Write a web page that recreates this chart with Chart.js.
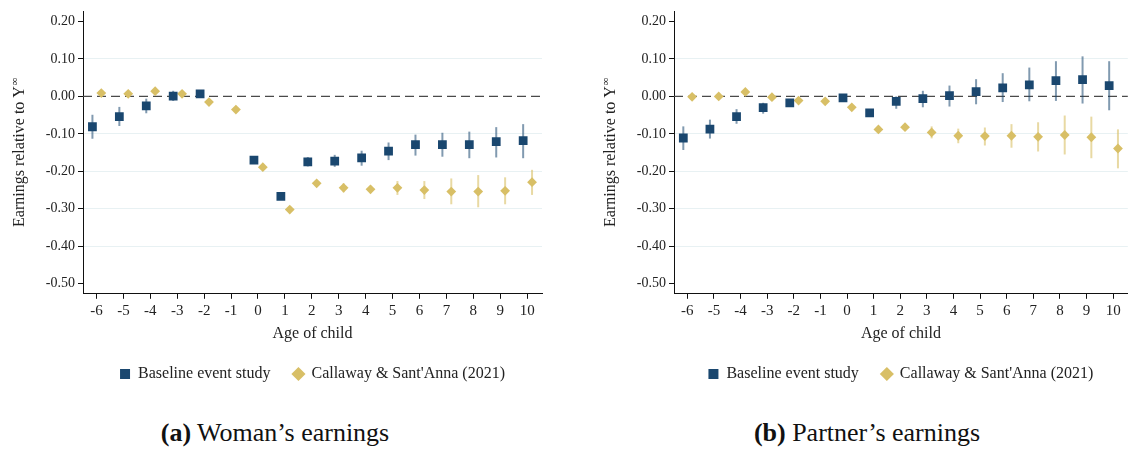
<!DOCTYPE html>
<html>
<head>
<meta charset="utf-8">
<script src="https://cdn.jsdelivr.net/npm/chart.js@4"></script>
<style>
  body { margin: 0; background: #fff; width: 1134px; height: 449px; overflow: hidden; position: relative; }
  .panel { position: absolute; top: 0; height: 395px; }
  .caption { position: absolute; top: 419px; font-family: "Liberation Serif", serif; font-size: 26px; line-height: 28px; color: #111; text-align: center; width: 400px; }
</style>
</head>
<body>
<div class="panel" id="p1" style="left:0px;width:560px"><canvas id="c1"></canvas></div>
<div class="panel" id="p2" style="left:591px;width:543px"><canvas id="c2"></canvas></div>
<div class="caption" style="left:75px"><b>(a)</b> Woman’s earnings</div>
<div class="caption" style="left:667px"><b>(b)</b> Partner’s earnings</div>
<script>
var ages = [-6, -5, -4, -3, -2, -1, 0, 1, 2, 3, 4, 5, 6, 7, 8, 9, 10];
var yTicks = [0.2, 0.1, 0, -0.1, -0.2, -0.3, -0.4, -0.5];

// woman's earnings
var womanBase   = [-0.081, -0.054, -0.025, 0.001, 0.007, null, -0.170, -0.267, -0.175, -0.173, -0.164, -0.146, -0.129, -0.129, -0.129, -0.121, -0.118];
var womanBaseLo = [-0.113, -0.079, -0.045, -0.012, 0.002, null, -0.175, -0.272, -0.187, -0.188, -0.185, -0.170, -0.158, -0.161, -0.165, -0.163, -0.165];
var womanBaseHi = [-0.049, -0.028, -0.006, 0.015, 0.012, null, -0.165, -0.262, -0.162, -0.156, -0.145, -0.123, -0.102, -0.097, -0.094, -0.082, -0.074];
var womanCS     = [0.009, 0.007, 0.014, 0.007, -0.015, -0.035, -0.189, -0.302, -0.232, -0.244, -0.248, -0.244, -0.250, -0.254, -0.254, -0.252, -0.229];
var womanCSLo   = [0.004, 0.002, 0.009, 0.002, -0.020, -0.040, -0.194, -0.307, -0.240, -0.256, -0.258, -0.263, -0.274, -0.288, -0.296, -0.288, -0.263];
var womanCSHi   = [0.014, 0.012, 0.019, 0.012, -0.010, -0.030, -0.184, -0.297, -0.224, -0.232, -0.238, -0.226, -0.226, -0.219, -0.210, -0.216, -0.196];

// partner's earnings
var partnerBase   = [-0.111, -0.0875, -0.054, -0.030, -0.017, null, -0.004, -0.044, -0.013, -0.006, 0.002, 0.0125, 0.023, 0.031, 0.042, 0.045, 0.029];
var partnerBaseLo = [-0.143, -0.1125, -0.073, -0.046, -0.022, null, -0.009, -0.049, -0.033, -0.029, -0.027, -0.021, -0.015, -0.013, -0.012, -0.019, -0.037];
var partnerBaseHi = [-0.080, -0.062, -0.034, -0.017, -0.012, null, 0.001, -0.039, 0.000, 0.015, 0.029, 0.046, 0.062, 0.077, 0.094, 0.107, 0.094];
var partnerCS     = [-0.001, 0.000, 0.012, -0.002, -0.011, -0.013, -0.029, -0.088, -0.082, -0.096, -0.105, -0.106, -0.105, -0.108, -0.103, -0.109, -0.139];
var partnerCSLo   = [-0.006, -0.005, 0.007, -0.007, -0.016, -0.018, -0.034, -0.093, -0.087, -0.112, -0.125, -0.131, -0.137, -0.147, -0.155, -0.165, -0.192];
var partnerCSHi   = [0.004, 0.005, 0.017, 0.003, -0.006, -0.008, -0.024, -0.083, -0.077, -0.080, -0.086, -0.083, -0.074, -0.069, -0.051, -0.054, -0.088];

var NAVY = '#1a476f';
var NAVY_BAR = 'rgba(26,71,111,0.55)';
var GOLD = '#d8bf66';
var GOLD_BAR = 'rgba(216,191,102,0.6)';
var FONT = '"Liberation Serif", serif';

toPoints = function(vals, shift) {
    var pts = [];
    for (var i = 0; i < ages.length; i++) {
        if (vals[i] === null) continue;
        pts.push({x: ages[i] + shift, y: vals[i], idx: i});
    }
    return pts;
}

// error bars + dashed zero line, drawn under the markers
var errorBars = {
    id: 'errorBars',
    beforeDatasetsDraw: function(chart) {
        var ctx = chart.ctx;
        var ys = chart.scales.y;
        var area = chart.chartArea;
        var y0 = ys.getPixelForValue(0);
        ctx.save();
        ctx.strokeStyle = '#4a4a4a';
        ctx.lineWidth = 1.3;
        ctx.setLineDash([9, 5]);
        ctx.beginPath();
        ctx.moveTo(area.left, y0);
        ctx.lineTo(area.right, y0);
        ctx.stroke();
        ctx.setLineDash([]);
        chart.data.datasets.forEach(function(ds, d) {
            var meta = chart.getDatasetMeta(d);
            ctx.strokeStyle = ds.barColor;
            ctx.lineWidth = 2;
            meta.data.forEach(function(el, j) {
                var i = ds.data[j].idx;
                ctx.beginPath();
                ctx.moveTo(el.x, ys.getPixelForValue(ds.lo[i]));
                ctx.lineTo(el.x, ys.getPixelForValue(ds.hi[i]));
                ctx.stroke();
            });
        });
        ctx.restore();
    }
};

// y-axis title with superscript infinity
var yTitle = {
    id: 'yTitle',
    afterDraw: function(chart) {
        var ctx = chart.ctx;
        var area = chart.chartArea;
        var main = 'Earnings relative to Y';
        ctx.save();
        ctx.fillStyle = '#222';
        ctx.font = '16px ' + FONT;
        var w1 = ctx.measureText(main).width;
        ctx.font = '11px ' + FONT;
        var w2 = ctx.measureText('∞').width;
        ctx.translate(20, (area.top + area.bottom) / 2);
        ctx.rotate(-Math.PI / 2);
        ctx.textBaseline = 'middle';
        ctx.font = '16px ' + FONT;
        ctx.fillText(main, -(w1 + w2) / 2, 0);
        ctx.font = '11px ' + FONT;
        ctx.fillText('∞', -(w1 + w2) / 2 + w1 + 0.5, -5);
        ctx.restore();
    }
};

makeChart = function(id, base, baseLo, baseHi, cs, csLo, csHi, padRight) {
    var ctx = document.getElementById(id).getContext('2d');
    return new Chart(ctx, {
        type: 'scatter',
        data: {
            datasets: [{
                label: 'Baseline event study',
                data: toPoints(base, -0.15),
                lo: baseLo, hi: baseHi, barColor: NAVY_BAR,
                pointStyle: 'rect',
                pointRadius: 6.2,
                pointHoverRadius: 6.2,
                backgroundColor: NAVY,
                borderColor: NAVY,
                borderWidth: 0
            }, {
                label: "Callaway & Sant'Anna (2021)",
                data: toPoints(cs, 0.18),
                lo: csLo, hi: csHi, barColor: GOLD_BAR,
                pointStyle: 'rectRot',
                pointRadius: 4.9,
                pointHoverRadius: 4.9,
                backgroundColor: GOLD,
                borderColor: GOLD,
                borderWidth: 0
            }]
        },
        options: {
            responsive: true,
            maintainAspectRatio: false,
            animation: false,
            layout: { padding: { left: 0, right: padRight, top: 10, bottom: 3 } },
            plugins: {
                tooltip: { enabled: false },
                legend: {
                    position: 'bottom',
                    fullSize: false,
                    labels: {
                        usePointStyle: true,
                        boxHeight: 10,
                        boxWidth: 10,
                        padding: 23,
                        color: '#222',
                        font: { family: FONT, size: 16 }
                    }
                }
            },
            scales: {
                x: {
                    type: 'linear',
                    min: -6.5,
                    max: 10.55,
                    afterBuildTicks: function(scale) {
                        scale.ticks = ages.map(function(v) { return {value: v}; });
                    },
                    ticks: {
                        autoSkip: false,
                        maxRotation: 0,
                        padding: 3,
                        color: '#222',
                        font: { family: FONT, size: 15 },
                        callback: function(v) { return String(v); }
                    },
                    grid: { drawOnChartArea: false, drawTicks: true, tickLength: 5, tickColor: '#111' },
                    border: { display: true, color: '#111', width: 1 },
                    title: {
                        display: true,
                        text: 'Age of child',
                        color: '#222',
                        padding: { top: 1, bottom: 0 },
                        font: { family: FONT, size: 16 }
                    }
                },
                y: {
                    min: -0.527,
                    max: 0.227,
                    afterBuildTicks: function(scale) {
                        scale.ticks = yTicks.map(function(v) { return {value: v}; });
                    },
                    afterFit: function(scale) { scale.width = 83; },
                    ticks: {
                        autoSkip: false,
                        padding: 3,
                        color: '#222',
                        font: { family: FONT, size: 14 },
                        callback: function(v) { return v.toFixed(2); }
                    },
                    grid: {
                        drawTicks: true,
                        tickLength: 5,
                        tickColor: '#111',
                        lineWidth: 1,
                        color: function(c) {
                            var v = c.tick ? Math.round(c.tick.value * 100) : 0;
                            if (v === 0 || v === 20 || v === -50) return 'rgba(0,0,0,0)';
                            return '#e8f1f3';
                        }
                    },
                    border: { display: true, color: '#111', width: 1 }
                }
            }
        },
        plugins: [errorBars, yTitle]
    });
}

window.charts = [];
window.charts.push(makeChart('c1', womanBase, womanBaseLo, womanBaseHi, womanCS, womanCSLo, womanCSHi, 18));
window.charts.push(makeChart('c2', partnerBase, partnerBaseLo, partnerBaseHi, partnerCS, partnerCSLo, partnerCSHi, 2));
</script>
</body>
</html>
